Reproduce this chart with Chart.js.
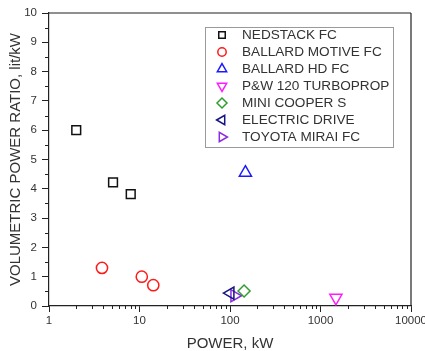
<!DOCTYPE html>
<html>
<head>
<meta charset="utf-8">
<script src="https://cdn.jsdelivr.net/npm/chart.js@4/dist/chart.umd.min.js"></script>
<style>
html,body{margin:0;padding:0;background:#fff;overflow:hidden;}
#wrap{width:440px;height:351px;}
</style>
</head>
<body>
<div id="wrap"><canvas id="c" width="440" height="351"></canvas></div>
<script>
// ---- data ----
const seriesNames = ['NEDSTACK FC','BALLARD MOTIVE FC','BALLARD HD FC','P&W 120 TURBOPROP','MINI COOPER S','ELECTRIC DRIVE','TOYOTA MIRAI FC'];
const nedstackX = [2, 5.1, 8];
const nedstackY = [6.0, 4.22, 3.82];
const ballardMotiveX = [3.85, 10.6, 14.2];
const ballardMotiveY = [1.3, 1.0, 0.71];
const ballardHdX = [148];
const ballardHdY = [4.55];
const pw120X = [1480];
const pw120Y = [0.28];
const miniX = [143];
const miniY = [0.51];
const electricX = [101];
const electricY = [0.44];
const toyotaX = [112];
const toyotaY = [0.35];
const xMajorTicks = [1, 10, 100, 1000, 10000];
const yMajorTicks = [0,1,2,3,4,5,6,7,8,9,10];

const zip = (xs, ys) => xs.map((x, i) => ({x: x, y: ys[i]}));

const styles = [
  {color:'#111111', pointStyle:'rect', rotation:0, radius:6.2, legendRadius:4.6},
  {color:'#ff1a1a', pointStyle:'circle', rotation:0, radius:5.6, legendRadius:4.2},
  {color:'#1a1aff', pointStyle:'triangle', rotation:0, radius:7, legendRadius:5.4},
  {color:'#ff1aff', pointStyle:'triangle', rotation:180, radius:7, legendRadius:5.4},
  {color:'#2e9e2e', pointStyle:'rectRot', rotation:0, radius:6, legendRadius:5},
  {color:'#141480', pointStyle:'triangle', rotation:270, radius:7, legendRadius:5.4},
  {color:'#8a2be2', pointStyle:'triangle', rotation:90, radius:7, legendRadius:5.4}
];
const dataSets = [
  zip(nedstackX, nedstackY),
  zip(ballardMotiveX, ballardMotiveY),
  zip(ballardHdX, ballardHdY),
  zip(pw120X, pw120Y),
  zip(miniX, miniY),
  zip(electricX, electricY),
  zip(toyotaX, toyotaY)
];

const datasets = dataSets.map((d, i) => ({
  label: seriesNames[i],
  data: d,
  showLine: false,
  pointStyle: styles[i].pointStyle,
  rotation: styles[i].rotation,
  pointRadius: styles[i].radius,
  pointHoverRadius: styles[i].radius,
  borderColor: styles[i].color,
  backgroundColor: 'rgba(0,0,0,0)',
  pointBorderWidth: 1.5,
  borderWidth: 1.5
}));

const FONT = "'Liberation Sans', Arial, sans-serif";
const AXIS_COLOR = '#222';

const decorPlugin = {
  id: 'decor',
  afterDraw(chart) {
    const ctx = chart.ctx;
    const ca = chart.chartArea;
    const xs = chart.scales.x, ys = chart.scales.y;
    ctx.save();
    ctx.strokeStyle = AXIS_COLOR;
    ctx.lineWidth = 1.2;
    // top and right frame lines
    ctx.beginPath();
    ctx.moveTo(ca.left, ca.top); ctx.lineTo(ca.right, ca.top);
    ctx.moveTo(ca.right, ca.top); ctx.lineTo(ca.right, ca.bottom);
    ctx.stroke();
    // minor ticks x
    ctx.lineWidth = 1;
    ctx.beginPath();
    for (let d = 1; d < 10000; d *= 10) {
      for (let k = 2; k <= 9; k++) {
        const px = Math.round(xs.getPixelForValue(d * k)) + 0.5;
        ctx.moveTo(px, ca.bottom); ctx.lineTo(px, ca.bottom + 3);
      }
    }
    // minor ticks y
    for (let v = 0.5; v < 10; v += 1) {
      const py = Math.round(ys.getPixelForValue(v)) + 0.5;
      ctx.moveTo(ca.left - 4, py); ctx.lineTo(ca.left, py);
    }
    ctx.stroke();

    // legend box
    const bx = 205, by = 27, bw = 188, bh = 120;
    ctx.strokeStyle = '#9a9a9a';
    ctx.lineWidth = 1;
    ctx.strokeRect(bx + 0.5, by + 0.5, bw, bh);
    ctx.font = '13.6px ' + FONT;
    ctx.textBaseline = 'middle';
    ctx.textAlign = 'left';
    chart.data.datasets.forEach((ds, i) => {
      const y = 35 + 17 * i;
      const opts = {
        pointStyle: ds.pointStyle,
        rotation: ds.rotation,
        radius: styles[i].legendRadius,
        borderWidth: 1.5
      };
      ctx.strokeStyle = ds.borderColor;
      ctx.fillStyle = 'rgba(0,0,0,0)';
      ctx.lineWidth = 1.5;
      Chart.helpers.drawPoint(ctx, opts, 222, y);
      ctx.fillStyle = '#333';
      ctx.fillText(ds.label, 242, y + 0.5);
    });
    ctx.restore();
  }
};

new Chart(document.getElementById('c'), {
  type: 'scatter',
  data: { datasets: datasets },
  plugins: [decorPlugin],
  options: {
    responsive: false,
    animation: false,
    events: [],
    layout: { padding: { top: 13, right: 29, left: 0, bottom: 0 } },
    plugins: { legend: { display: false }, tooltip: { enabled: false } },
    scales: {
      x: {
        type: 'logarithmic',
        position: 'bottom',
        min: 1, max: 10000,
        afterBuildTicks: (s) => { s.ticks = xMajorTicks.map(v => ({value: v})); },
        afterFit: (s) => { s.height = 45; },
        border: { display: true, color: AXIS_COLOR, width: 1.2 },
        grid: { display: true, drawOnChartArea: false, drawTicks: true, tickLength: 6, color: AXIS_COLOR, lineWidth: 1 },
        ticks: {
          autoSkip: false, maxRotation: 0, padding: 2,
          color: '#333', font: { family: FONT, size: 11.5 },
          callback: (v) => String(v)
        },
        title: { display: true, text: 'POWER, kW', color: '#333',
                 font: { family: FONT, size: 15, lineHeight: 1 }, padding: { top: 0, bottom: 0 } }
      },
      y: {
        type: 'linear',
        position: 'left',
        min: 0, max: 10,
        afterBuildTicks: (s) => { s.ticks = yMajorTicks.map(v => ({value: v})); },
        afterFit: (s) => { s.width = 49; },
        border: { display: true, color: AXIS_COLOR, width: 1.2 },
        grid: { display: true, drawOnChartArea: false, drawTicks: true, tickLength: 7, color: AXIS_COLOR, lineWidth: 1 },
        ticks: {
          autoSkip: false, padding: 5,
          color: '#333', font: { family: FONT, size: 11.5 }
        },
        title: { display: true, text: 'VOLUMETRIC POWER RATIO, lit/kW', color: '#333',
                 font: { family: FONT, size: 15, lineHeight: 1 }, padding: { top: 8, bottom: 0 } }
      }
    }
  }
});
</script>
</body>
</html>
